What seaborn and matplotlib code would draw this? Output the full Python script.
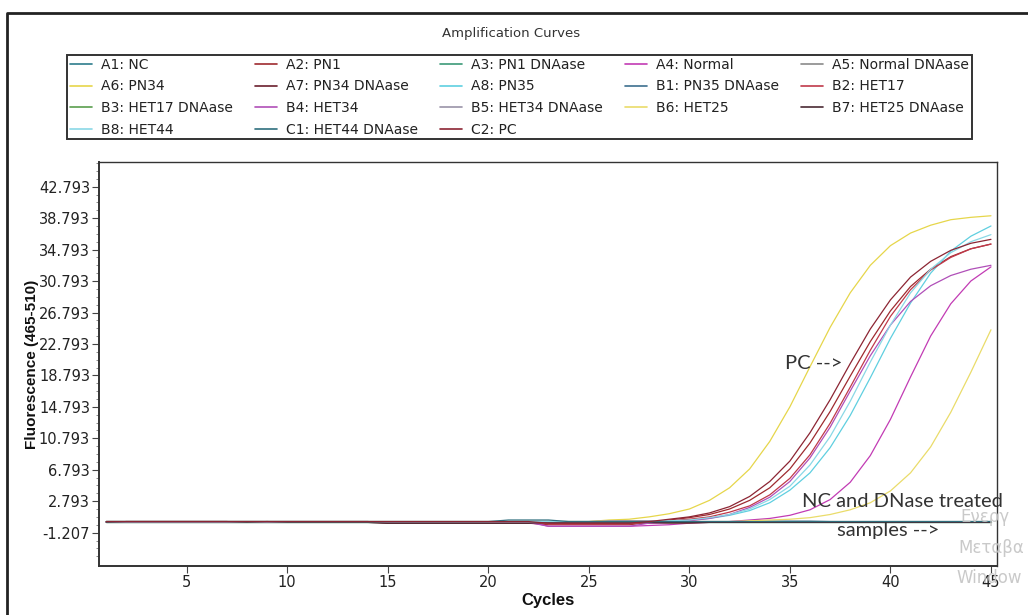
import numpy as np
import pandas as pd
import matplotlib
matplotlib.use("Agg")
import matplotlib.pyplot as plt
import seaborn as sns
from matplotlib.lines import Line2D
from matplotlib.ticker import FixedLocator, FormatStrFormatter

# ---------------- data ----------------
cycles = list(range(1, 46))

sample_names = [
    "A1: NC", "A2: PN1", "A3: PN1 DNAase", "A4: Normal", "A5: Normal DNAase",
    "A6: PN34", "A7: PN34 DNAase", "A8: PN35", "B1: PN35 DNAase", "B2: HET17",
    "B3: HET17 DNAase", "B4: HET34", "B5: HET34 DNAase", "B6: HET25", "B7: HET25 DNAase",
    "B8: HET44", "C1: HET44 DNAase", "C2: PC",
]

sample_colors = [
    "#2e7d8c", "#9e2a2f", "#3c9a78", "#c23bb4", "#8a8a8a",
    "#e6d64a", "#6b1f2e", "#5fcfe0", "#3d6f8f", "#c0394a",
    "#5a9e4e", "#b04fb8", "#9a93a8", "#eadc6a", "#4a2a33",
    "#8ad8e6", "#2f6f7e", "#8c2533",
]

A1_NC = [0.2, 0.2, 0.2, 0.2, 0.2, 0.2, 0.2, 0.2, 0.2, 0.2, 0.2, 0.2, 0.2, 0.2, 0.2,
         0.2, 0.2, 0.2, 0.2, 0.2, 0.2, 0.2, 0.2, 0.2, 0.2, 0.2, 0.2, 0.2, 0.2, 0.2,
         0.2, 0.2, 0.2, 0.2, 0.2, 0.2, 0.2, 0.2, 0.2, 0.2, 0.2, 0.2, 0.2, 0.2, 0.2]
A2_PN1 = [0.2, 0.2, 0.2, 0.2, 0.2, 0.2, 0.2, 0.2, 0.2, 0.2, 0.2, 0.2, 0.2, 0.2, 0.0,
          0.0, 0.0, 0.0, 0.0, 0.0, 0.0, 0.0, -0.2, -0.2, -0.2, -0.2, -0.2, 0.1, 0.4, 0.7,
          1.1, 1.8, 2.9, 4.5, 6.9, 10.2, 14.2, 18.7, 23.1, 27.0, 30.1, 32.3, 33.9, 34.9, 35.5]
A3_PN1_DNAase = [0.2, 0.2, 0.2, 0.2, 0.2, 0.2, 0.2, 0.2, 0.2, 0.2, 0.2, 0.2, 0.2, 0.2, 0.1,
                 0.1, 0.1, 0.1, 0.1, 0.1, 0.1, 0.1, 0.2, 0.2, 0.2, 0.2, 0.2, 0.2, 0.2, 0.2,
                 0.2, 0.2, 0.2, 0.2, 0.2, 0.2, 0.2, 0.2, 0.2, 0.2, 0.2, 0.2, 0.2, 0.2, 0.2]
A4_Normal = [0.2, 0.2, 0.2, 0.2, 0.2, 0.2, 0.2, 0.2, 0.2, 0.2, 0.2, 0.2, 0.2, 0.2, 0.2,
             0.2, 0.2, 0.2, 0.2, 0.2, 0.2, 0.2, -0.4, -0.4, -0.4, -0.4, -0.4, -0.3, -0.2, 0.0,
             0.1, 0.2, 0.4, 0.6, 1.0, 1.7, 3.0, 5.2, 8.6, 13.2, 18.6, 23.8, 27.9, 30.8, 32.6]
A5_Normal_DNAase = [0.2, 0.2, 0.2, 0.2, 0.2, 0.2, 0.2, 0.2, 0.2, 0.2, 0.2, 0.2, 0.2, 0.2, 0.2,
                    0.2, 0.2, 0.2, 0.2, 0.2, 0.2, 0.2, 0.2, 0.2, 0.2, 0.3, 0.3, 0.3, 0.2, 0.2,
                    0.2, 0.2, 0.2, 0.2, 0.2, 0.2, 0.2, 0.2, 0.2, 0.2, 0.2, 0.2, 0.2, 0.2, 0.2]
A6_PN34 = [0.2, 0.2, 0.2, 0.2, 0.2, 0.2, 0.2, 0.2, 0.2, 0.2, 0.2, 0.2, 0.2, 0.2, 0.2,
           0.2, 0.2, 0.2, 0.2, 0.2, 0.2, 0.2, 0.2, 0.2, 0.2, 0.4, 0.5, 0.8, 1.2, 1.8,
           2.9, 4.5, 6.9, 10.4, 14.8, 19.9, 24.9, 29.3, 32.8, 35.3, 36.9, 37.9, 38.6, 38.9, 39.1]
A7_PN34_DNAase = [0.1, 0.2, 0.2, 0.2, 0.2, 0.2, 0.2, 0.1, 0.2, 0.1, 0.1, 0.1, 0.1, 0.1, 0.0,
                  0.0, 0.0, 0.0, 0.0, 0.0, 0.0, 0.0, 0.0, 0.0, 0.0, 0.0, 0.0, 0.0, 0.0, 0.0,
                  0.1, 0.1, 0.1, 0.1, 0.1, 0.1, 0.1, 0.1, 0.1, 0.1, 0.1, 0.1, 0.1, 0.1, 0.1]
A8_PN35 = [0.2, 0.2, 0.2, 0.2, 0.2, 0.2, 0.2, 0.2, 0.2, 0.2, 0.2, 0.2, 0.2, 0.2, 0.2,
           0.2, 0.2, 0.2, 0.2, 0.2, 0.2, 0.2, 0.2, 0.2, 0.2, 0.2, 0.2, 0.2, 0.3, 0.4,
           0.6, 1.0, 1.6, 2.6, 4.2, 6.4, 9.6, 13.7, 18.5, 23.5, 28.0, 31.8, 34.6, 36.5, 37.8]
B1_PN35_DNAase = [0.2, 0.2, 0.2, 0.2, 0.2, 0.2, 0.2, 0.2, 0.2, 0.2, 0.2, 0.2, 0.2, 0.2, 0.2,
                  0.2, 0.2, 0.2, 0.2, 0.2, 0.2, 0.2, 0.2, 0.2, 0.2, 0.2, 0.2, 0.2, 0.2, 0.2,
                  0.2, 0.2, 0.2, 0.25, 0.25, 0.25, 0.2, 0.2, 0.2, 0.2, 0.2, 0.2, 0.2, 0.2, 0.2]
B2_HET17 = [0.2, 0.2, 0.2, 0.2, 0.2, 0.2, 0.2, 0.2, 0.2, 0.2, 0.2, 0.2, 0.2, 0.2, 0.1,
            0.1, 0.1, 0.1, 0.1, 0.1, 0.1, 0.1, -0.1, -0.1, -0.1, -0.1, -0.1, 0.1, 0.3, 0.5,
            0.8, 1.4, 2.2, 3.6, 5.7, 8.7, 12.7, 17.3, 22.0, 26.3, 29.7, 32.2, 33.8, 34.9, 35.5]
B3_HET17_DNAase = [0.2, 0.2, 0.2, 0.2, 0.2, 0.2, 0.2, 0.2, 0.2, 0.2, 0.2, 0.2, 0.2, 0.2, 0.2,
                   0.2, 0.2, 0.2, 0.2, 0.2, 0.2, 0.2, 0.2, 0.2, 0.2, 0.2, 0.2, 0.2, 0.2, 0.2,
                   0.2, 0.2, 0.2, 0.2, 0.2, 0.2, 0.2, 0.2, 0.2, 0.2, 0.2, 0.2, 0.2, 0.2, 0.2]
B4_HET34 = [0.1, 0.1, 0.1, 0.1, 0.1, 0.1, 0.1, 0.1, 0.1, 0.1, 0.1, 0.1, 0.1, 0.1, 0.1,
            0.1, 0.1, 0.1, 0.1, 0.1, 0.1, 0.1, -0.4, -0.4, -0.4, -0.4, -0.4, 0.0, 0.1, 0.3,
            0.6, 1.1, 2.0, 3.3, 5.3, 8.3, 12.2, 16.8, 21.3, 25.2, 28.2, 30.2, 31.5, 32.3, 32.8]
B5_HET34_DNAase = [0.2, 0.2, 0.2, 0.2, 0.2, 0.2, 0.2, 0.2, 0.2, 0.2, 0.2, 0.2, 0.2, 0.2, 0.2,
                   0.2, 0.2, 0.2, 0.2, 0.2, 0.2, 0.2, 0.2, 0.2, 0.2, 0.3, 0.3, 0.3, 0.2, 0.2,
                   0.2, 0.2, 0.2, 0.2, 0.2, 0.2, 0.2, 0.2, 0.2, 0.2, 0.2, 0.2, 0.2, 0.2, 0.2]
B6_HET25 = [0.2, 0.2, 0.2, 0.2, 0.2, 0.2, 0.2, 0.2, 0.2, 0.2, 0.2, 0.2, 0.2, 0.2, 0.2,
            0.2, 0.2, 0.2, 0.2, 0.2, 0.2, 0.2, 0.2, 0.2, 0.2, 0.2, 0.2, 0.2, 0.2, 0.2,
            0.2, 0.2, 0.3, 0.4, 0.5, 0.7, 1.1, 1.7, 2.6, 4.1, 6.4, 9.7, 14.1, 19.2, 24.6]
B7_HET25_DNAase = [0.1, 0.2, 0.2, 0.2, 0.2, 0.2, 0.2, 0.1, 0.2, 0.1, 0.1, 0.1, 0.1, 0.1, 0.0,
                   0.0, 0.0, 0.0, 0.0, 0.0, 0.0, 0.0, 0.1, 0.1, 0.1, 0.1, 0.1, 0.1, 0.1, 0.1,
                   0.1, 0.1, 0.1, 0.1, 0.1, 0.1, 0.1, 0.1, 0.1, 0.1, 0.1, 0.1, 0.1, 0.1, 0.1]
B8_HET44 = [0.2, 0.2, 0.2, 0.2, 0.2, 0.2, 0.2, 0.2, 0.2, 0.2, 0.2, 0.2, 0.2, 0.2, 0.2,
            0.2, 0.2, 0.2, 0.2, 0.2, 0.2, 0.2, 0.2, 0.2, 0.2, 0.2, 0.2, 0.2, 0.3, 0.4,
            0.7, 1.1, 1.8, 3.0, 4.7, 7.4, 11.0, 15.5, 20.5, 25.2, 29.3, 32.3, 34.4, 35.8, 36.7]
C1_HET44_DNAase = [0.2, 0.2, 0.2, 0.2, 0.2, 0.2, 0.2, 0.2, 0.2, 0.2, 0.2, 0.2, 0.2, 0.2, 0.2,
                   0.2, 0.2, 0.2, 0.2, 0.2, 0.4, 0.4, 0.4, 0.2, 0.2, 0.2, 0.2, 0.2, 0.2, 0.2,
                   0.2, 0.2, 0.2, 0.2, 0.2, 0.2, 0.2, 0.2, 0.2, 0.2, 0.2, 0.2, 0.2, 0.2, 0.2]
C2_PC = [0.2, 0.2, 0.2, 0.2, 0.2, 0.2, 0.2, 0.2, 0.2, 0.2, 0.2, 0.2, 0.2, 0.2, 0.2,
         0.2, 0.2, 0.2, 0.2, 0.2, 0.2, 0.2, 0.0, 0.0, 0.0, 0.0, 0.0, 0.2, 0.5, 0.8,
         1.3, 2.1, 3.4, 5.3, 7.9, 11.5, 15.7, 20.3, 24.7, 28.4, 31.3, 33.3, 34.7, 35.6, 36.1]

series_values = [
    A1_NC, A2_PN1, A3_PN1_DNAase, A4_Normal, A5_Normal_DNAase,
    A6_PN34, A7_PN34_DNAase, A8_PN35, B1_PN35_DNAase, B2_HET17,
    B3_HET17_DNAase, B4_HET34, B5_HET34_DNAase, B6_HET25, B7_HET25_DNAase,
    B8_HET44, C1_HET44_DNAase, C2_PC,
]

y_ticks = [-1.207, 2.793, 6.793, 10.793, 14.793, 18.793, 22.793,
           26.793, 30.793, 34.793, 38.793, 42.793]
x_ticks = [5, 10, 15, 20, 25, 30, 35, 40, 45]

# ---------------- figure ----------------
sns.set_theme(style="white")
plt.rcParams["font.family"] = ["DejaVu Sans"]

W, H = 1028, 615
fig = plt.figure(figsize=(W / 100, H / 100), dpi=100)
fig.patch.set_facecolor("white")

ax_l, ax_r, ax_t, ax_b = 99, 997, 162, 566
ax = fig.add_axes([ax_l / W, 1 - ax_b / H, (ax_r - ax_l) / W, (ax_b - ax_t) / H])

rows = []
for name, vals in zip(sample_names, series_values):
    for c, v in zip(cycles, vals):
        rows.append((name, c, v))
df = pd.DataFrame(rows, columns=["Sample", "Cycles", "Fluorescence"])

palette = dict(zip(sample_names, sample_colors))
sns.lineplot(data=df, x="Cycles", y="Fluorescence", hue="Sample",
             hue_order=sample_names, palette=palette, linewidth=0.9,
             estimator=None, errorbar=None, ax=ax, legend=True)

ax.set_xlim(0.64, 45.3)
ax.set_ylim(-5.45, 45.94)
ax.xaxis.set_major_locator(FixedLocator(x_ticks))
ax.yaxis.set_major_locator(FixedLocator(y_ticks))
minor = [t + k for t in y_ticks for k in (1, 2, 3) if t + k < 45.9]
minor += [y_ticks[0] - 1, y_ticks[0] - 2, y_ticks[0] - 3]
ax.yaxis.set_minor_locator(FixedLocator(minor))
ax.yaxis.set_major_formatter(FormatStrFormatter("%.3f"))

ax.tick_params(axis="both", which="major", direction="out", length=5, width=0.8,
               color="#444444", labelsize=10.5, labelcolor="#222222", pad=1.5)
ax.tick_params(axis="y", which="minor", direction="out", length=2.5, width=0.6,
               color="#777777", left=True)
ax.tick_params(axis="x", which="major", bottom=True)
ax.tick_params(axis="y", which="major", left=True)

for side, sp in ax.spines.items():
    sp.set_visible(True)
    sp.set_color("#333333")
    sp.set_linewidth(1.4 if side in ("left", "bottom") else 1.0)

ax.set_xlabel("Cycles", fontsize=12, fontweight="bold", color="#111111", labelpad=2,
              family=["Liberation Sans Narrow", "Liberation Sans", "DejaVu Sans"])
ax.set_ylabel("Fluorescence (465-510)", fontsize=11, fontweight="bold", color="#111111",
              labelpad=0, family=["Liberation Sans", "DejaVu Sans"])

# legend: reorder so entries fill rows like the reference
handles, labels = ax.get_legend_handles_labels()
ax.get_legend().remove()
ncol = 5
order = [i for j in range(ncol) for i in range(j, len(labels), ncol)]
leg = fig.legend([handles[i] for i in order], [labels[i] for i in order],
                 loc="upper left",
                 bbox_to_anchor=(67 / W, 1 - 55 / H, (972 - 67) / W, 0.0),
                 mode="expand", ncol=ncol, fontsize=10, frameon=True, fancybox=False,
                 edgecolor="#333333", framealpha=1, borderpad=0.2, labelspacing=0.55,
                 handlelength=1.6, handletextpad=0.65, borderaxespad=0, columnspacing=1.0)
leg.get_frame().set_linewidth(1.4)
for ln in leg.get_lines():
    ln.set_linewidth(1.2)
for t in leg.get_texts():
    t.set_color("#222222")

fig.text(511 / W, 1 - 33 / H, "Amplification Curves", ha="center", va="center",
         fontsize=9.5, color="#333333")

# outer frame (top + left edge)
fig.add_artist(Line2D([7 / W, 7 / W, 1.0], [0.0, 1 - 13 / H, 1 - 13 / H],
                      transform=fig.transFigure, color="#222222", linewidth=2))

# annotations
ann_font = ["Lato", "DejaVu Sans"]
ax.text(34.77, 20.3, "PC -->", fontsize=14.5, color="#333333", va="center", ha="left",
        family=ann_font)
ax.text(35.6, 2.8, "NC and DNase treated", fontsize=14.5, color="#333333", va="center",
        ha="left", family=ann_font, clip_on=False)
ax.text(37.35, -0.9, "samples -->", fontsize=14.5, color="#333333", va="center",
        ha="left", family=ann_font, clip_on=False)

# faint watermark fragments at right edge
wm_col = "#c4c4c4"
fig.text(960 / W, 1 - 517 / H, "Ενεργ", fontsize=12, color=wm_col,
         va="center", ha="left", alpha=0.9)
fig.text(958 / W, 1 - 548 / H, "Μεταβα", fontsize=12, color=wm_col,
         va="center", ha="left", alpha=0.9)
fig.text(956 / W, 1 - 578 / H, "Window", fontsize=12, color=wm_col,
         va="center", ha="left", alpha=0.9)

fig.savefig("out.png", dpi=100, facecolor="white")
